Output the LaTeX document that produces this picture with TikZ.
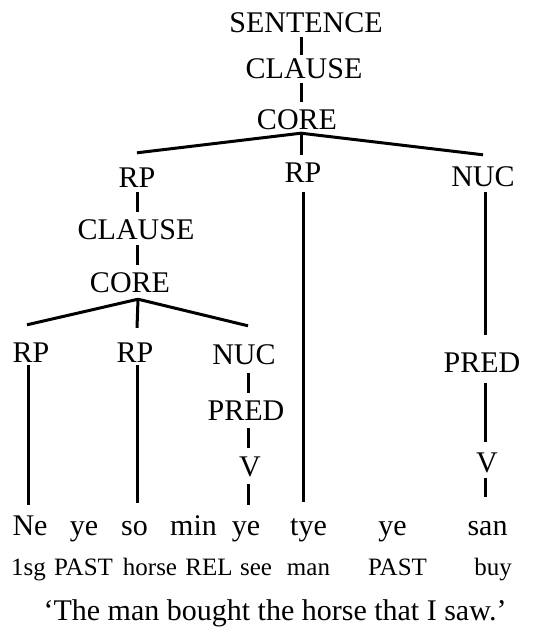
\documentclass[tikz,border=0pt]{standalone}
\usepackage{fontspec}
\setmainfont{Liberation Serif}
\begin{document}
\begin{tikzpicture}[x=1pt,y=-1pt,
  lab/.style={anchor=base,inner sep=0pt,text height=20pt,text depth=0pt,font=\fontsize{30}{36}\selectfont},
  gl/.style={anchor=base,inner sep=0pt,font=\fontsize{25}{30}\selectfont},
  br/.style={line width=3pt}]
\useasboundingbox (0,0) rectangle (553,636);
% tree labels
\node[lab] (sent) at (306,33) {SENTENCE};
\node[lab] (cl1) at (304,79) {CLAUSE};
\node[lab] (core1) at (297,130) {CORE};
\node[lab] (rp1) at (137,188) {RP};
\node[lab] (rp2) at (303,183) {RP};
\node[lab] (nuc1) at (483,187) {NUC};
\node[lab] (cl2) at (136,239) {CLAUSE};
\node[lab] (core2) at (130,292) {CORE};
\node[lab] (rp3) at (31,362) {RP};
\node[lab] (rp4) at (135,362) {RP};
\node[lab] (nuc2) at (244,364) {NUC};
\node[lab] (pred1) at (246,420) {PRED};
\node[lab] (v1) at (250,476) {V};
\node[lab] (pred2) at (482,372) {PRED};
\node[lab] (v2) at (487,472) {V};
% words
\node[lab] (w1) at (30,535) {Ne};
\node[lab] (w2) at (84,535) {ye};
\node[lab] (w3) at (134.5,535) {so};
\node[lab] (w4) at (193.5,535) {min};
\node[lab] (w5) at (246,535) {ye};
\node[lab] (w6) at (308.5,535) {tye};
\node[lab] (w7) at (392.5,535) {ye};
\node[lab] (w8) at (487.5,535) {san};
% glosses
\node[gl] (g1) at (28.5,575) {1sg};
\node[gl] (g2) at (83.5,575) {PAST};
\node[gl] (g3) at (150,575) {horse};
\node[gl] (g4) at (209,575) {REL};
\node[gl] (g5) at (256,575) {see};
\node[gl] (g6) at (308.5,575) {man};
\node[gl] (g7) at (397.5,575) {PAST};
\node[gl] (g8) at (493,575) {buy};
% translation
\node[lab] (tr) at (275,620) {‘The man bought the horse that I saw.’};
% branches
\draw[br] ([shift={(-5,4)}]sent.south) -- ([shift={(-3,-4)}]cl1.north);
\draw[br] ([shift={(-3,4)}]cl1.south) -- ([shift={(4,-8)}]core1.north);
\draw[br] ([shift={(4,3)}]core1.south) -- ([shift={(0,-15)}]rp1.north);
\draw[br] ([shift={(4,3)}]core1.south) -- ([shift={(-2,-8)}]rp2.north);
\draw[br] ([shift={(4,3)}]core1.south) -- ([shift={(0,-12)}]nuc1.north);
\draw[br] ([shift={(0,4)}]rp1.south) -- ([shift={(1,-7)}]cl2.north);
\draw[br] ([shift={(1,6)}]cl2.south) -- ([shift={(7,-7)}]core2.north);
\draw[br] ([shift={(8,7)}]core2.south) -- ([shift={(-4,-17)}]rp3.north);
\draw[br] ([shift={(8,7)}]core2.south) -- ([shift={(2,-14)}]rp4.north);
\draw[br] ([shift={(8,7)}]core2.south) -- ([shift={(4,-18)}]nuc2.north);
\draw[br] ([shift={(-3,3)}]rp3.south) -- ([shift={(-2,-10)}]w1.north);
\draw[br] ([shift={(2,3)}]rp4.south) -- ([shift={(2.5,-12)}]w3.north);
\draw[br] ([shift={(4,9)}]nuc2.south) -- ([shift={(2,-7)}]pred1.north);
\draw[br] ([shift={(2,8)}]pred1.south) -- ([shift={(-2,-8)}]v1.north);
\draw[br] ([shift={(-2,8)}]v1.south) -- ([shift={(2,-10)}]w5.north);
\draw[br] ([shift={(0,9)}]rp2.south) -- ([shift={(-5.5,-13)}]w6.north);
\draw[br] ([shift={(2,5)}]nuc1.south) -- ([shift={(3,-17)}]pred2.north);
\draw[br] ([shift={(3,11)}]pred2.south) -- ([shift={(-2,-10)}]v2.north);
\draw[br] ([shift={(-2,6)}]v2.south) -- ([shift={(-2.5,-18)}]w8.north);
\end{tikzpicture}
\end{document}
